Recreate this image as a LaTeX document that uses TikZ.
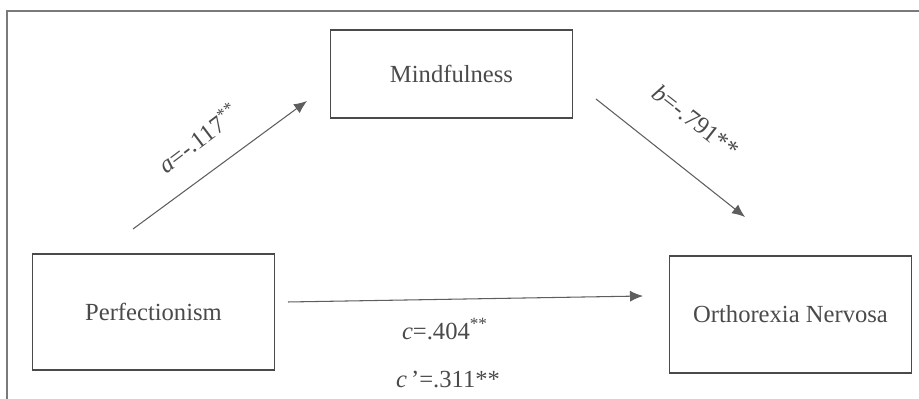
\documentclass[tikz,border=0pt]{standalone}
\usepackage{fontspec}
\setmainfont{Liberation Serif}
\usetikzlibrary{positioning,arrows.meta,calc}
\definecolor{ink}{HTML}{4A4A4A}
\definecolor{lineink}{HTML}{5E5E5E}
\definecolor{frame}{HTML}{7A7A7A}
\tikzset{
  box/.style={draw=ink,line width=0.9pt,minimum width=4.84cm,align=center,font=\fontsize{14}{16}\selectfont,text=ink},
  flow/.style={-{Latex[length=2.6mm,width=2.2mm]},draw=lineink,line width=0.6pt},
  lbl/.style={font=\fontsize{14}{16}\selectfont,text=ink,inner sep=1pt}}

\begin{document}
\begin{tikzpicture}
  \useasboundingbox (0,0) rectangle (18.38,7.98);
  % outer frame, open to the right and bottom
  \draw[frame,line width=1.1pt] (18.6,7.76) -- (0.14,7.76) -- (0.14,-0.2);
  \node[box,minimum height=1.76cm] (mind) at (9.03,6.50) {Mindfulness};
  \node[box,minimum height=2.32cm] (perf) at (3.07,1.74) {Perfectionism};
  \node[box,minimum height=2.34cm] (orth) at (15.81,1.69) {Orthorexia Nervosa};
  % free arrow ends
  \coordinate (aS) at (2.66,3.40);
  \coordinate (aE) at (6.14,5.96);
  \coordinate (bS) at (11.92,6.00);
  \coordinate (bE) at (14.90,3.64);
  \coordinate (cS) at (5.76,1.94);
  \coordinate (cE) at (12.86,2.06);
  \draw[flow] (aS) -- (aE);
  \draw[flow] (bS) -- (bE);
  \draw[flow] (cS) -- (cE);
  \node[lbl,rotate=37] (la) at (3.96,5.22) {\textit{a}=-.117\textsuperscript{**}};
  \node[lbl,rotate=-38] (lb) at (13.92,5.56) {\textit{b}=-.791**};
  \node[lbl] (lc) at (8.90,1.40) {\textit{c}=.404\textsuperscript{**}};
  \node[lbl] (lc2) at (8.96,0.38) {\textit{c}\,'=.311**};
\end{tikzpicture}
\end{document}
